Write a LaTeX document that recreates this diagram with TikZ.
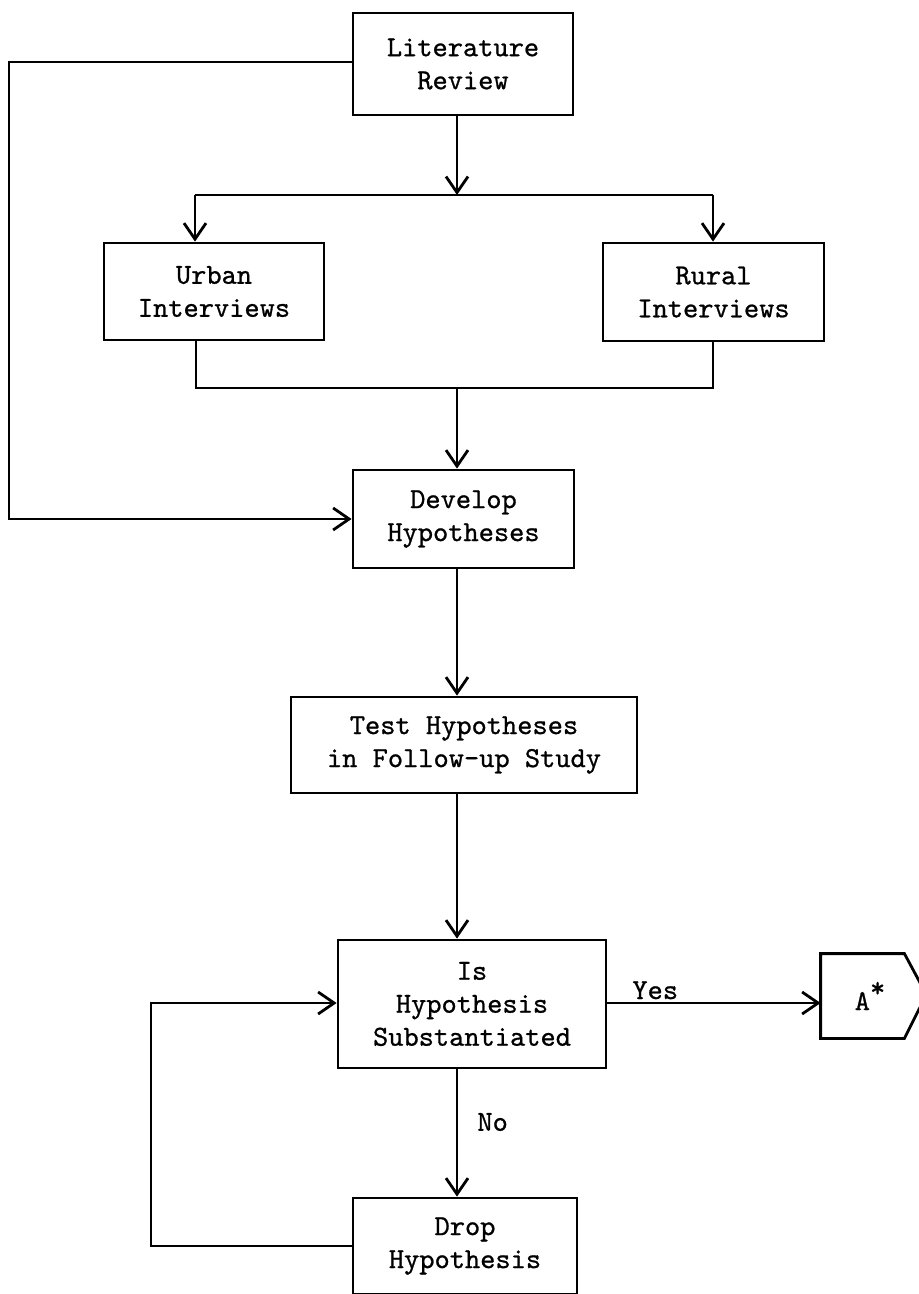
\documentclass[tikz,border=0pt]{standalone}
\usepackage{fontspec}
\setmonofont{lmmono10-regular.otf}[FakeBold=0.8]
\usetikzlibrary{arrows.meta}
\begin{document}
\begin{tikzpicture}[x=0.5pt,y=-0.5pt,
  line width=1.4pt,
  every node/.style={font=\ttfamily\fontsize{14.5}{16.5}\selectfont},
  stepbox/.style={draw,rectangle,inner sep=0pt,align=center},
  arr/.style={-{Straight Barb[length=8pt,width=11pt]}}]
\path[use as bounding box,fill=white] (0,0) rectangle (918,1294);

% process boxes
\node[stepbox,minimum width=110pt,minimum height=51pt] (lit) at (463,64) {Literature\\Review};
\node[stepbox,minimum width=110pt,minimum height=48.5pt] (urban) at (214,291.5) {Urban\\Interviews};
\node[stepbox,minimum width=110.5pt,minimum height=49pt] (rural) at (713.5,292) {Rural\\Interviews};
\node[stepbox,minimum width=110.5pt,minimum height=49pt] (dev) at (463.5,519) {Develop\\Hypotheses};
\node[stepbox,minimum width=173pt,minimum height=48pt] (test) at (464,745) {Test Hypotheses\\in Follow-up Study};
\node[stepbox,minimum width=134pt,minimum height=64pt] (is) at (472,1004) {Is\\Hypothesis\\Substantiated};
\node[stepbox,minimum width=112pt,minimum height=48pt] (drop) at (465,1246) {Drop\\Hypothesis};

% off-page connector
\node[inner sep=0pt,minimum width=40.5pt,minimum height=41pt] (astar) at (862.5,996) {};
\draw (astar.north west) -- (astar.north east) -- ++(22,41) -- (astar.south east) -- (astar.south west) -- cycle;
\node[inner sep=0pt] (astarlbl) at (870,996) {A\raisebox{0.45em}{*}};

% routing points
\coordinate (split) at (457,195);
\coordinate (splitL) at (195,195);
\coordinate (splitR) at (713,195);
\coordinate (joinL) at (196,388);
\coordinate (joinR) at (713,388);
\coordinate (join) at (457,388);
\coordinate (lt) at (9,62);
\coordinate (lb) at (9,519);
\coordinate (yes) at (0,1003);
\coordinate (fb) at (151,1246);
\coordinate (ft) at (151,1003);

% connectors
\draw[arr] (lit.south -| split) -- (split);
\draw (splitL) -- (splitR);
\draw[arr] (splitL) -- (urban.north -| splitL);
\draw[arr] (splitR) -- (rural.north -| splitR);
\draw (urban.south -| joinL) -- (joinL) -- (joinR) -- (rural.south -| joinR);
\draw[arr] (join) -- (dev.north -| join);
\draw[arr] (lit.west |- lt) -- (lt) -- (lb) -- (dev.west |- lb);
\draw[arr] (dev.south -| split) -- (test.north -| split);
\draw[arr] (test.south -| split) -- (is.north -| split);
\draw[arr] (is.east |- yes) -- (astar.west |- yes);
\draw[arr] (is.south -| split) -- (drop.north -| split);
\draw[arr] (drop.west |- fb) -- (fb) -- (ft) -- (is.west |- ft);

% branch labels
\node[anchor=base west,inner sep=0pt] (yeslbl) at (631,999) {Yes};
\node[anchor=west,inner sep=0pt] (nolbl) at (476,1122) {No};
\end{tikzpicture}
\end{document}
